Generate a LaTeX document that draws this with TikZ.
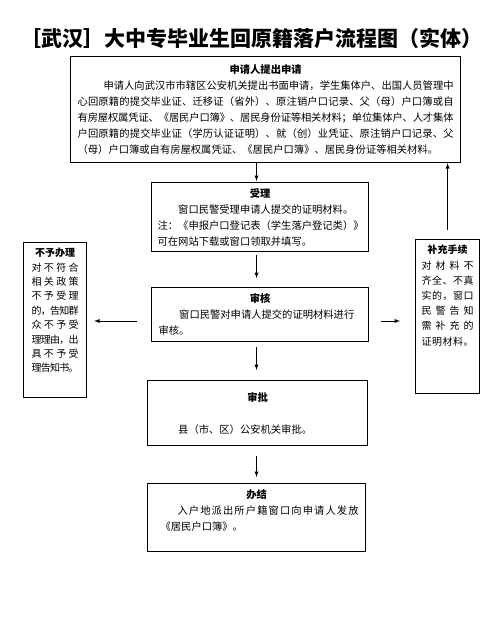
\documentclass[tikz,border=0pt]{standalone}
\usepackage{fontspec}
\setmainfont{Noto Sans CJK SC}
\usetikzlibrary{positioning,arrows}
% spread the characters of a row over a given width
\def\spreadfirst#1{#1\spreadchars}
\def\spreadchars#1{\ifx#1\relax\else\hskip 0pt plus 1fil minus 1pt#1\expandafter\spreadchars\fi}
\newcommand{\spreadrow}[2]{\leavevmode\hbox to #1{\spreadfirst#2\relax}}
\newcommand{\headrow}[1]{\leavevmode\hbox to\hsize{\hfil\bfseries #1\hfil}}

\begin{document}
\begin{tikzpicture}[x=1pt,y=-1pt,>=latex,
    box/.style={draw,line width=1.2pt,anchor=north west,inner ysep=0pt,align=left,
      font=\fontsize{10.3}{16}\selectfont},
    frame/.style={draw,line width=1.2pt,anchor=north west,inner sep=0pt},
    sidetext/.style={inner sep=0pt,align=center},
    flow/.style={->,line width=0.9pt}]
  \useasboundingbox[fill=white] (0,0) rectangle (501,634);
  \node[font=\fontsize{21}{21}\bfseries] (title) at (251,38)
    {［武汉］大中专毕业生回原籍落户流程图（实体）};
  % main column
  \node[box,text width=376pt,inner xsep=7pt,minimum height=106pt] (apply) at (70,56) {%
    \headrow{申请人提出申请}\\
    \hspace*{26pt}\spreadrow{350pt}{申请人向武汉市市辖区公安机关提出书面申请，学生集体户、出国人员管理中}\\
    \spreadrow{\hsize}{心回原籍的提交毕业证、迁移证（省外）、原注销户口记录、父（母）户口簿或自}\\
    \spreadrow{\hsize}{有房屋权属凭证、《居民户口簿》、居民身份证等相关材料；单位集体户、人才集体}\\
    \spreadrow{\hsize}{户回原籍的提交毕业证（学历认证证明）、就（创）业凭证、原注销户口记录、父}\\
    （母）户口簿或自有房屋权属凭证、《居民户口簿》、居民身份证等相关材料。};
  \node[box,text width=205pt,inner xsep=6pt,minimum height=69pt] (accept) at (151,182) {%
    \headrow{受理}\\
    \hspace*{2em}窗口民警受理申请人提交的证明材料。\\
    注：《申报户口登记表（学生落户登记类）》\\
    可在网站下载或窗口领取并填写。};
  \node[box,text width=203pt,inner xsep=7pt,minimum height=54pt] (check) at (151,287) {%
    \headrow{审核}\\
    \hspace*{2em}窗口民警对申请人提交的证明材料进行\\
    审核。};
  \node[box,text width=200pt,inner xsep=10pt,minimum height=65pt] (approve) at (147,380) {%
    \headrow{审批}\\
    \mbox{}\\
    \hspace*{2em}县（市、区）公安机关审批。};
  \node[box,text width=192pt,inner xsep=13pt,minimum height=68pt] (finish) at (147,483) {%
    \headrow{办结}\\
    \hspace*{17pt}\spreadrow{181pt}{入户地派出所户籍窗口向申请人发放}\\
    《居民户口簿》。\\
    \mbox{}};
  % side boxes
  \node[frame,minimum width=63pt,minimum height=155pt] (reject) at (23,242) {};
  \node[sidetext,below=6pt of reject.north,font=\fontsize{10}{14.4}\selectfont] (rejecttext) {%
    \textbf{不予办理}\\
    \spreadrow{47pt}{对不符合}\\
    \spreadrow{47pt}{相关政策}\\
    \spreadrow{47pt}{不予受理}\\
    \spreadrow{47pt}{的，告知群}\\
    \spreadrow{47pt}{众不予受}\\
    \spreadrow{47pt}{理理由，出}\\
    \spreadrow{47pt}{具不予受}\\
    \spreadrow{47pt}{理告知书。}};
  \node[frame,minimum width=64pt,minimum height=154pt] (supplement) at (415,239) {};
  \node[sidetext,below=6pt of supplement.north,font=\fontsize{10}{15.2}\selectfont] (supplementtext) {%
    \textbf{补充手续}\\
    \spreadrow{52pt}{对材料不}\\
    \spreadrow{52pt}{齐全、不真}\\
    \spreadrow{52pt}{实的，窗口}\\
    \spreadrow{52pt}{民警告知}\\
    \spreadrow{52pt}{需补充的}\\
    \spreadrow{52pt}{证明材料。}};
  % connectors
  \coordinate (axis) at (256.5,0);
  \coordinate (side) at (0,321);
  \draw[flow,shorten >=1pt] (apply.south -| axis) -- (accept.north -| axis);
  \draw[flow,shorten <=3pt,shorten >=9pt] (accept.south -| axis) -- (check.north -| axis);
  \draw[flow,shorten <=5pt,shorten >=10pt] (check.south -| axis) -- (approve.north -| axis);
  \draw[flow,shorten <=10pt,shorten >=6pt] (approve.south -| axis) -- (finish.north -| axis);
  \draw[flow,shorten <=14pt,shorten >=7pt] (check.west |- side) -- (reject.east |- side);
  \draw[flow,shorten <=12pt,shorten >=15pt] (check.east |- side) -- (supplement.west |- side);
  \draw[flow,shorten <=9pt] (supplement.north) -- (supplement.north |- apply.south);
\end{tikzpicture}
\end{document}
